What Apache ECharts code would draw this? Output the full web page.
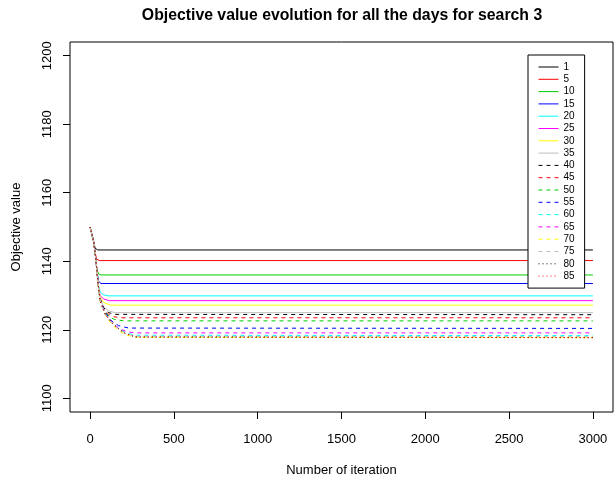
<!DOCTYPE html>
<html>
<head>
<meta charset="utf-8">
<script src="https://cdn.jsdelivr.net/npm/echarts/dist/echarts.min.js"></script>
<style>html,body{margin:0;padding:0;background:#fff}#c{width:614px;height:482px}</style>
</head>
<body>
<div id="c"></div>
<script>
const titleText = 'Objective value evolution for all the days for search 3';
const xName = 'Number of iteration';
const yName = 'Objective value';
const xTicks = [0, 500, 1000, 1500, 2000, 2500, 3000];
const yTicks = [1100, 1120, 1140, 1160, 1180, 1200];
const days = ['1','5','10','15','20','25','30','35','40','45','50','55','60','65','70','75','80','85'];

const day1  = [[0,1150],[20,1146],[30,1143.8],[45,1143.3],[3000,1143.3]];
const day5  = [[0,1150],[20,1146],[30,1142.4],[40,1140.6],[55,1140.2],[3000,1140.2]];
const day10 = [[0,1150],[20,1146],[30,1142.4],[40,1137.8],[50,1136.3],[65,1136],[3000,1136]];
const day15 = [[0,1150],[20,1146],[30,1142.4],[40,1137.5],[50,1134.2],[65,1133.5],[3000,1133.5]];
const day20 = [[0,1150],[20,1146],[30,1142.4],[40,1137.5],[50,1133],[60,1131],[80,1130.2],[110,1129.9],[3000,1129.9]];
const day25 = [[0,1150],[20,1146],[30,1142.4],[40,1137.5],[50,1132.5],[60,1130],[80,1129],[115,1128.5],[3000,1128.5]];
const day30 = [[0,1150],[20,1146],[30,1142.4],[40,1137.5],[50,1132.5],[60,1129.5],[80,1128],[120,1127.2],[3000,1127.2]];
const day35 = [[0,1150],[20,1146],[30,1142.4],[40,1137.5],[50,1132.5],[60,1129.2],[80,1126.8],[110,1125.5],[150,1125],[3000,1125]];
const day40 = [[0,1150],[20,1146],[30,1142.4],[40,1137.5],[50,1132.5],[60,1129],[80,1126.5],[110,1125],[150,1124.5],[3000,1124.4]];
const day45 = [[0,1150],[20,1146],[30,1142.4],[40,1137.5],[50,1132.5],[60,1129],[80,1126.3],[110,1124.5],[140,1123.8],[190,1123.5],[3000,1123.5]];
const day50 = [[0,1150],[20,1146],[30,1142.4],[40,1137.5],[50,1132.5],[60,1129],[80,1126],[110,1124],[140,1123.1],[200,1122.6],[3000,1122.6]];
const day55 = [[0,1150],[20,1146],[30,1142.4],[40,1137.5],[50,1132.5],[60,1128.8],[90,1125],[130,1122.5],[170,1121.2],[230,1120.5],[3000,1120.4]];
const day60 = [[0,1150],[20,1146],[30,1142.4],[40,1137.5],[50,1132.5],[60,1128.5],[90,1124.5],[130,1122],[170,1120.5],[210,1119.2],[270,1118.4],[3000,1118.3]];
const day65 = [[0,1150],[20,1146],[30,1142.4],[40,1137.5],[50,1132.5],[60,1128.5],[90,1124.5],[130,1122],[170,1120.5],[220,1119.4],[270,1119.1],[3000,1119.1]];
const day70 = [[0,1150],[20,1146],[30,1142.4],[40,1137.5],[50,1132.5],[60,1128],[100,1123.5],[140,1121],[180,1119.5],[220,1118.4],[280,1117.8],[3000,1117.7]];
const day75 = [[0,1150],[20,1146],[30,1142.4],[40,1137.5],[50,1132.5],[60,1128.2],[90,1124.5],[130,1122],[170,1120.2],[210,1119],[270,1118.1],[3000,1118]];
const day80 = [[0,1150],[20,1146],[30,1142.4],[40,1137.5],[50,1132.5],[60,1128.3],[90,1124.6],[130,1122],[170,1120.3],[210,1118.9],[270,1117.9],[3000,1117.7]];
const day85 = [[0,1150],[20,1146],[30,1142.4],[40,1137.5],[50,1132.5],[60,1128.3],[90,1124.6],[130,1122],[170,1120.3],[210,1118.9],[270,1117.9],[3000,1117.7]];

const allData = [day1,day5,day10,day15,day20,day25,day30,day35,day40,day45,day50,day55,day60,day65,day70,day75,day80,day85];
const palette = ['#000000','#FF0000','#00CD00','#0000FF','#00FFFF','#FF00FF','#FFFF00','#BEBEBE'];
const lineTypes = ['solid','solid','solid','solid','solid','solid','solid','solid',
  [4,4],[4,4],[4,4],[4,4],[4,4],[4,4],[4,4],[4,4],[1,3],[1,3]];

const FONT = 'Liberation Sans, Arial, sans-serif';
const chart = echarts.init(document.getElementById('c'), null, {renderer: 'canvas'});

const series = days.map((d, i) => ({
  name: d,
  type: 'line',
  data: allData[i],
  symbol: 'none',
  showSymbol: false,
  animation: false,
  silent: true,
  lineStyle: {color: palette[i % 8], width: 1, type: lineTypes[i]},
  itemStyle: {color: palette[i % 8]}
}));

chart.setOption({
  animation: false,
  backgroundColor: '#fff',
  graphic: [{
    type: 'text', x: 342, y: 16,
    style: {text: titleText, align: 'center', verticalAlign: 'middle',
      font: 'bold 15.8px ' + FONT, fill: '#000'}
  }],
  grid: {left: 70, top: 42, right: 1, bottom: 69, show: true, borderColor: '#000', borderWidth: 1, backgroundColor: 'transparent'},
  xAxis: {
    type: 'value', min: -120, max: 3120,
    name: xName, nameLocation: 'middle', nameGap: 52,
    nameTextStyle: {fontFamily: FONT, fontSize: 13, color: '#000'},
    axisLine: {show: false, onZero: false},
    axisTick: {show: true, length: 7, customValues: xTicks, lineStyle: {color: '#000'}},
    axisLabel: {customValues: xTicks, margin: 21, fontFamily: FONT, fontSize: 13, color: '#000',
      formatter: v => String(v)},
    splitLine: {show: false}
  },
  yAxis: {
    type: 'value', min: 1096, max: 1204,
    name: yName, nameLocation: 'middle', nameGap: 47,
    nameTextStyle: {fontFamily: FONT, fontSize: 13, color: '#000'},
    axisLine: {show: false, onZero: false},
    axisTick: {show: true, length: 7, customValues: yTicks, lineStyle: {color: '#000'}},
    axisLabel: {customValues: yTicks, rotate: 90, margin: 16, fontFamily: FONT, fontSize: 13, color: '#000',
      formatter: v => String(v)},
    splitLine: {show: false}
  },
  legend: {
    orient: 'vertical', left: 528, top: 55,
    data: days,
    itemWidth: 20, itemHeight: 10, itemGap: 2.3,
    padding: [7, 10, 7, 10],
    backgroundColor: '#fff', borderColor: '#000', borderWidth: 1, borderRadius: 0,
    itemStyle: {opacity: 0},
    lineStyle: {width: 1},
    textStyle: {fontFamily: FONT, fontSize: 10, color: '#000'},
    selectedMode: false
  },
  series: series
});
</script>
</body>
</html>
